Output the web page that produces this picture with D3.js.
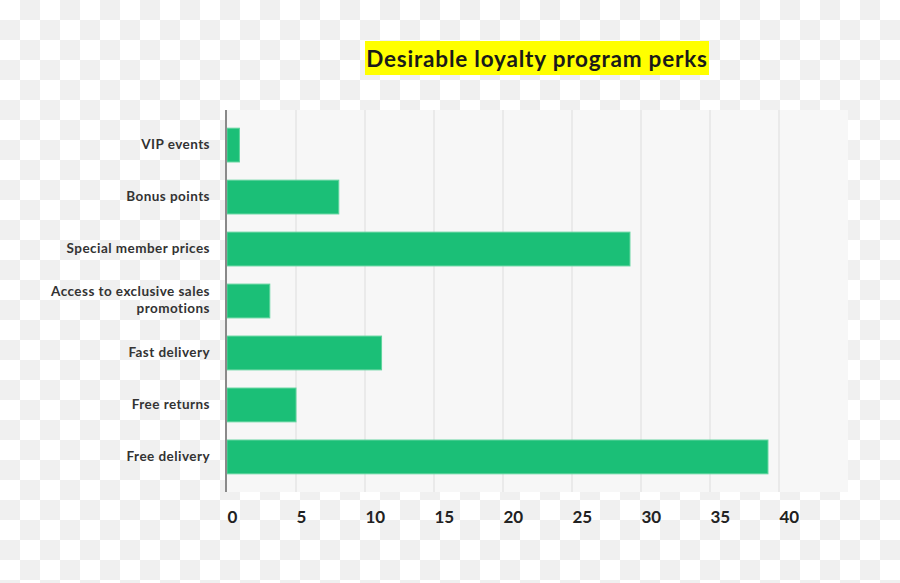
<!DOCTYPE html>
<html>
<head>
<meta charset="utf-8">
<script src="https://cdn.jsdelivr.net/npm/d3@7"></script>
<style>
  html, body { margin: 0; padding: 0; }
  body { width: 900px; height: 583px; overflow: hidden; }
  svg { display: block; }
  text { font-family: Lato, "Open Sans", sans-serif; }
</style>
</head>
<body>
<svg id="chart" width="900" height="583"></svg>
<script>
const title = "Desirable loyalty program perks";
const categories = [
  "VIP events",
  "Bonus points",
  "Special member prices",
  "Access to exclusive sales promotions",
  "Fast delivery",
  "Free returns",
  "Free delivery"
];
const values = [0.9, 8.1, 29.2, 3.1, 11.2, 5.0, 39.2];
const tickValues = [0, 5, 10, 15, 20, 25, 30, 35, 40];
const xMax = 45;

const W = 900, H = 583;
const svg = d3.select("#chart");

// checkerboard background
const defs = svg.append("defs");
const pat = defs.append("pattern").attr("id", "checker")
  .attr("width", 40).attr("height", 40).attr("patternUnits", "userSpaceOnUse");
pat.append("rect").attr("width", 40).attr("height", 40).attr("fill", "#ffffff");
pat.append("rect").attr("x", 20).attr("y", 0).attr("width", 20).attr("height", 20).attr("fill", "#f0f0f0");
pat.append("rect").attr("x", 0).attr("y", 20).attr("width", 20).attr("height", 20).attr("fill", "#f0f0f0");
svg.append("rect").attr("width", W).attr("height", H).attr("fill", "url(#checker)");

const plot = { left: 227, right: 848, top: 110, bottom: 492 };

const x = d3.scaleLinear().domain([0, xMax]).range([plot.left, plot.right]);
const y = d3.scaleBand().domain(categories).range([plot.top, plot.bottom]).padding(0.35);

// panel
svg.append("rect")
  .attr("x", plot.left).attr("y", plot.top)
  .attr("width", plot.right - plot.left).attr("height", plot.bottom - plot.top)
  .attr("fill", "#f7f7f7");

// grid lines
svg.append("g").selectAll("line").data(tickValues.filter(d => d > 0)).join("line")
  .attr("x1", d => x(d)).attr("x2", d => x(d))
  .attr("y1", plot.top).attr("y2", plot.bottom)
  .attr("stroke", "#e6e6e6").attr("stroke-width", 1.5);

// bars
svg.append("g").selectAll("rect").data(categories).join("rect")
  .attr("x", x(0))
  .attr("y", d => y(d))
  .attr("width", (d, i) => x(values[i]) - x(0))
  .attr("height", y.bandwidth())
  .attr("fill", "#1bbf77")
  .attr("stroke", "#5fd49d")
  .attr("stroke-width", 1);

// left axis line
svg.append("line")
  .attr("x1", plot.left - 1).attr("x2", plot.left - 1)
  .attr("y1", plot.top).attr("y2", plot.bottom)
  .attr("stroke", "#8a8a8a").attr("stroke-width", 2);

// category labels
const wrapMap = {
  "Access to exclusive sales promotions": ["Access to exclusive sales", "promotions"]
};
const lab = svg.append("g");
categories.forEach(c => {
  const lines = wrapMap[c] || [c];
  const cy = y(c) + y.bandwidth() / 2 - 1;
  const lh = 17;
  const t = lab.append("text")
    .attr("text-anchor", "end")
    .attr("font-size", 13.5)
    .attr("font-weight", 700)
    .attr("letter-spacing", 0.45)
    .attr("fill", "#333333");
  lines.forEach((ln, k) => {
    t.append("tspan")
      .attr("x", 210)
      .attr("y", cy + (k - (lines.length - 1) / 2) * lh)
      .attr("dy", "0.35em")
      .text(ln);
  });
});

// x tick labels
const xAxis = d3.axisBottom(x).tickValues(tickValues).tickSize(0).tickFormat(d3.format("d"));
const gx = svg.append("g").attr("transform", `translate(0,${plot.bottom})`).call(xAxis);
gx.select(".domain").remove();
gx.selectAll("text")
  .attr("text-anchor", "start")
  .attr("x", 0)
  .attr("y", 31)
  .attr("dy", 0)
  .attr("font-size", 17)
  .attr("font-weight", 700)
  .attr("fill", "#222222")
  .style("font-family", "Lato, 'Open Sans', sans-serif");

// title
const tg = svg.append("g");
tg.append("rect")
  .attr("x", 365).attr("y", 41)
  .attr("width", 344).attr("height", 34)
  .attr("fill", "#ffff00");
tg.append("text")
  .attr("x", 537).attr("y", 67)
  .attr("text-anchor", "middle")
  .attr("font-size", 22.5)
  .attr("font-weight", 700)
  .attr("letter-spacing", 0.8)
  .attr("fill", "#1a1a1a")
  .text(title);
</script>
</body>
</html>
